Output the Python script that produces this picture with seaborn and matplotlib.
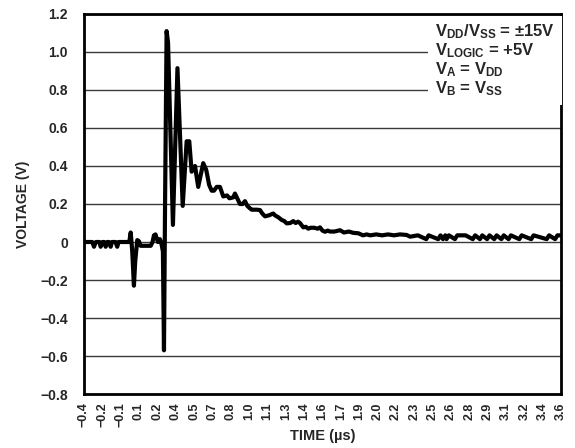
import numpy as np
import matplotlib
matplotlib.use('Agg')
import matplotlib.pyplot as plt
import seaborn as sns

# trace (time in us, voltage in V)
time = [-0.40, -0.33, -0.316, -0.30, -0.27, -0.26, -0.245, -0.23, -0.218, -0.205,
        -0.19, -0.176, -0.165, -0.135, -0.121, -0.11, -0.02, -0.008, 0.005, 0.019,
        0.030, 0.047, 0.060, 0.075, 0.10, 0.13, 0.16, 0.175, 0.187, 0.20,
        0.21, 0.22, 0.237, 0.250, 0.262, 0.271, 0.280, 0.293, 0.305, 0.346,
        0.384, 0.428, 0.461, 0.483, 0.503, 0.531, 0.558, 0.600, 0.625, 0.65,
        0.671, 0.69, 0.713, 0.74, 0.768, 0.80, 0.82, 0.852, 0.866, 0.885,
        0.908, 0.93, 0.95, 0.97, 0.992, 1.006, 1.05, 1.076, 1.095, 1.118,
        1.15, 1.187, 1.202, 1.23, 1.258, 1.28, 1.300, 1.33, 1.355, 1.375,
        1.395, 1.411, 1.439, 1.46, 1.481, 1.50, 1.53, 1.56, 1.579, 1.60,
        1.621, 1.645, 1.663, 1.70, 1.747, 1.78, 1.82, 1.86, 1.90, 1.94,
        1.97, 2.00, 2.05, 2.10, 2.15, 2.20, 2.25, 2.306, 2.334, 2.40,
        2.47, 2.49, 2.57, 2.59, 2.61, 2.63, 2.64, 2.66, 2.71, 2.73,
        2.80, 2.86, 2.88, 2.92, 2.94, 2.98, 3.00, 3.04, 3.06, 3.10,
        3.12, 3.16, 3.18, 3.25, 3.27, 3.35, 3.37, 3.48, 3.50, 3.55,
        3.57, 3.60]
volts = [0.00, 0.00, -0.025, 0.00, 0.00, -0.025, 0.00, 0.00, -0.025, 0.00,
         0.00, -0.025, 0.00, 0.00, -0.025, 0.00, 0.00, 0.05, -0.05, -0.23,
         -0.10, 0.01, 0.005, -0.02, -0.02, -0.02, -0.02, 0.00, 0.035, 0.04,
         0.02, 0.00, 0.015, -0.01, -0.05, -0.57, 0.20, 1.11, 1.05, 0.09,
         0.915, 0.19, 0.53, 0.53, 0.37, 0.40, 0.29, 0.415, 0.38, 0.30,
         0.27, 0.27, 0.29, 0.29, 0.24, 0.245, 0.23, 0.235, 0.255, 0.23,
         0.20, 0.20, 0.215, 0.19, 0.177, 0.17, 0.17, 0.168, 0.15, 0.135,
         0.14, 0.15, 0.14, 0.13, 0.116, 0.11, 0.098, 0.10, 0.11, 0.10,
         0.107, 0.10, 0.077, 0.08, 0.07, 0.075, 0.075, 0.07, 0.077, 0.06,
         0.054, 0.06, 0.055, 0.055, 0.062, 0.05, 0.055, 0.048, 0.046, 0.035,
         0.04, 0.035, 0.04, 0.035, 0.04, 0.035, 0.04, 0.037, 0.028, 0.035,
         0.015, 0.035, 0.015, 0.035, 0.015, 0.035, 0.015, 0.035, 0.015, 0.035,
         0.035, 0.015, 0.035, 0.015, 0.035, 0.015, 0.035, 0.015, 0.035, 0.015,
         0.035, 0.015, 0.035, 0.015, 0.035, 0.015, 0.035, 0.015, 0.035, 0.015,
         0.035, 0.035]

xtick_labels = ['\u22120.4', '\u22120.2', '\u22120.1', '0.1', '0.2', '0.4', '0.5', '0.7', '0.8',
                '1.0', '1.1', '1.3', '1.4', '1.6', '1.7', '1.9', '2.0', '2.2', '2.3',
                '2.5', '2.6', '2.8', '2.9', '3.1', '3.2', '3.4', '3.6']
ytick_values = [-0.8, -0.6, -0.4, -0.2, 0, 0.2, 0.4, 0.6, 0.8, 1.0, 1.2]
ytick_labels = ['\u22120.8', '\u22120.6', '\u22120.4', '\u22120.2', '0', '0.2', '0.4',
                '0.6', '0.8', '1.0', '1.2']

sns.set_style('white')
plt.rcParams['font.family'] = ['Liberation Sans', 'DejaVu Sans']
plt.rcParams['font.weight'] = 'bold'
plt.rcParams['mathtext.fontset'] = 'custom'
plt.rcParams['mathtext.rm'] = 'Liberation Sans:bold'
plt.rcParams['mathtext.bf'] = 'Liberation Sans:bold'
plt.rcParams['mathtext.it'] = 'Liberation Sans:bold'

fig = plt.figure(figsize=(5.75, 4.48), dpi=100)
ax = fig.add_axes([0.146, 0.1205, 0.8297, 0.8483])

sns.lineplot(x=time, y=volts, color='black', linewidth=3.0, estimator=None, ax=ax, zorder=3)

ax.set_xlim(-0.4, 3.6)
ax.set_ylim(-0.8, 1.2)
ax.set_xticks(np.linspace(-0.4, 3.6, len(xtick_labels)))
ax.set_xticklabels(xtick_labels, rotation=90, fontsize=9, fontweight='bold')
ax.set_yticks(ytick_values)
ax.set_yticklabels(ytick_labels, fontsize=10, fontweight='bold')
ax.tick_params(axis='x', direction='in', length=5, width=1.2, color='black', pad=6)
ax.tick_params(axis='y', length=0, pad=11.5)
ax.yaxis.grid(True, color='#3a3a3a', linewidth=1.0)
ax.xaxis.grid(False)
ax.set_axisbelow(True)
for s in ax.spines.values():
    s.set_linewidth(2.0)
    s.set_color('black')

ax.set_xlabel('TIME (\u00b5s)', fontsize=10.5, fontweight='bold', labelpad=1)
ax.set_ylabel('VOLTAGE (V)', fontsize=10, fontweight='bold')
ax.yaxis.set_label_coords(-0.113, 0.5)

note = ('$\\mathbf{V_{DD}/V_{SS}}$ = \u00b115V\n'
        '$\\mathbf{V_{LOGIC}}$ = +5V\n'
        '$\\mathbf{V_{A}}$ = $\\mathbf{V_{DD}}$\n'
        '$\\mathbf{V_{B}}$ = $\\mathbf{V_{SS}}$')
ax.text(0.736, 0.977, note, transform=ax.transAxes, ha='left', va='top',
        fontsize=12, fontweight='bold', linespacing=1.0, zorder=4,
        bbox=dict(boxstyle='square,pad=0.42', facecolor='white', edgecolor='none'))

fig.savefig('out.png', dpi=100)
